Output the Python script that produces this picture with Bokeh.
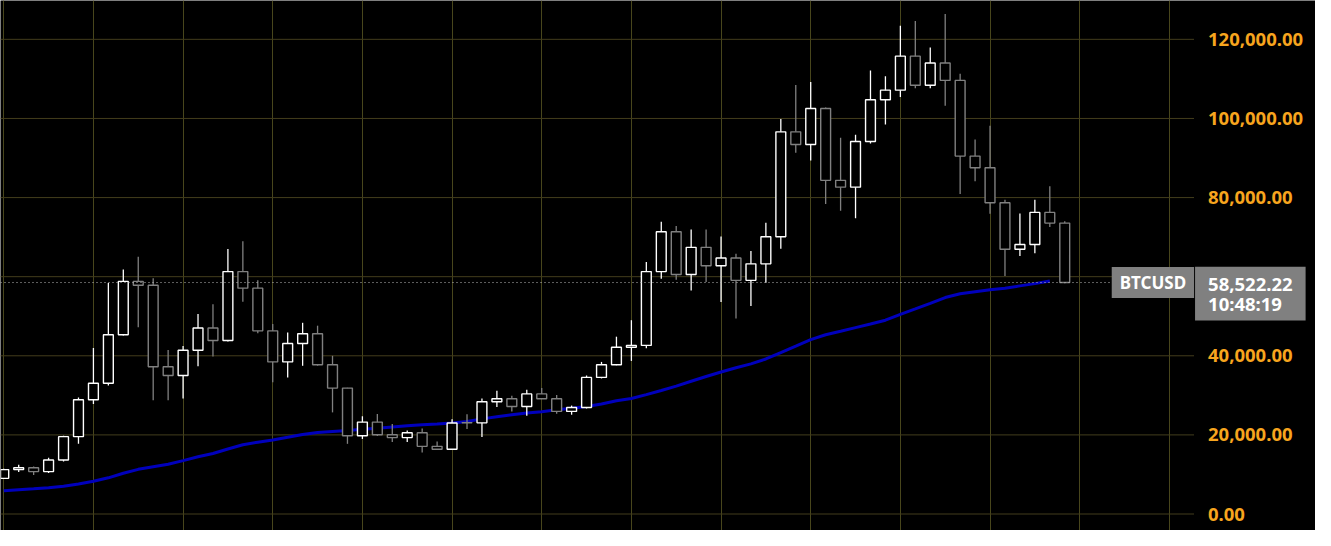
from bokeh.plotting import figure
from bokeh.models import (Range1d, FixedTicker, NumeralTickFormatter, Label, ColumnDataSource,
                          LinearAxis)
from bokeh.embed import file_html
from bokeh.resources import INLINE

# ---- data (monthly BTCUSD candles) ----
months = [f"{2020 + (6 + k) // 12}-{(6 + k) % 12 + 1:02d}" for k in range(72)]

opens = [9010, 11220, 11700, 10720, 13670, 19560, 28880, 33060, 45330, 58820,
         57840, 37230, 35020, 41400, 47040, 43850, 61280, 57100, 46310, 38460,
         43120, 45570, 37720, 31830, 19800, 23240, 20050, 19310, 20540, 17100,
         16370, 23100, 23050, 28390, 29130, 27170, 30360, 29130, 25940, 26920,
         34530, 37720, 42140, 42630, 61280, 71340, 60540, 67410, 62750, 64710,
         59070, 63240, 70110, 96610, 93420, 102500, 84350, 82630, 94160, 104710,
         107160, 115750, 108390, 114030, 109620, 90480, 87530, 78700, 66920, 68150,
         76250, 73550]
highs = [11450, 12440, 12030, 14230, 19800, 29450, 41960, 58400, 61840, 65030,
         59630, 41470, 42450, 50550, 53000, 66990, 68960, 59070, 48020, 45890,
         48340, 47610, 40000, 31900, 24710, 25280, 22750, 21100, 21600, 18330,
         23970, 25200, 29200, 31170, 29870, 31410, 31830, 30110, 27410, 35020,
         38450, 44830, 49000, 63730, 73870, 72810, 71900, 71900, 70180, 65770,
         66500, 73620, 99880, 108470, 109210, 102750, 95140, 95880, 112150, 110670,
         123440, 124660, 117960, 126380, 111330, 94650, 98160, 79440, 76000, 79440,
         82870, 74040]
lows = [8980, 10630, 9890, 10380, 13250, 17740, 27800, 32470, 45150, 47190,
        28790, 28790, 29200, 37370, 39830, 43600, 53670, 45720, 33300, 34530,
        37470, 37500, 25690, 17740, 18970, 19710, 18230, 18230, 15530, 16300,
        16300, 21520, 19460, 27070, 25940, 24860, 29050, 25350, 25100, 26680,
        34280, 37600, 38700, 41900, 59460, 59210, 56520, 58650, 53570, 49400,
        52590, 58480, 67070, 91360, 89400, 78360, 76640, 74770, 93660, 98480,
        105450, 107660, 107660, 103240, 80910, 84100, 75900, 60200, 65200, 65940,
        72570, 58330]
closes = [11220, 11700, 10720, 13670, 19560, 28880, 33060, 45330, 58820, 57840,
          37230, 35020, 41400, 47040, 43850, 61280, 57100, 46310, 38460, 43120,
          45570, 37720, 31830, 19800, 23240, 20050, 19310, 20540, 17100, 16370,
          23000, 23050, 28390, 29130, 27170, 30360, 29130, 25940, 26920, 34530,
          37720, 42140, 42630, 61280, 71340, 60540, 67410, 62750, 64710, 59070,
          63240, 70110, 96610, 93420, 102500, 84350, 82630, 94160, 104710, 107160,
          115750, 108390, 114030, 109620, 90480, 87530, 78700, 66920, 68150, 76250,
          73550, 58522.22]
moving_avg = [5890, 6135, 6380, 6630, 7040, 7610, 8270, 9150, 10310, 11290,
              11950, 12590, 13500, 14480, 15290, 16440, 17500, 18160, 18720, 19390,
              20120, 20610, 20860, 21100, 21420, 21670, 22010, 22330, 22580, 22750,
              23000, 23390, 24050, 24610, 25100, 25520, 25840, 26330, 26750, 27170,
              27800, 28640, 29200, 30180, 31240, 32320, 33550, 34770, 35900, 36980,
              37960, 39190, 40810, 42450, 44100, 45330, 46210, 47120, 48020, 49000,
              50470, 51850, 53250, 54720, 55700, 56200, 56690, 57100, 57670, 58240,
              58900]
y_ticks = [0, 20000, 40000, 60000, 80000, 100000, 120000]
x_grid_months = list(range(0, 80, 6))
symbol = "BTCUSD"
last_price = 58522.22
clock = "10:48:19"

# ---- layout constants (data-space extents) ----
X_START, X_END = -0.218, 87.78      # full width of the frame
AXIS_X = 79.65                      # where the price scale begins
Y_START, Y_END = -4170, 129820

# ---- build sources ----
idx = list(range(len(months)))
up_color, down_color = "#ffffff", "#808080"
colors = [up_color if c >= o else down_color for o, c in zip(opens, closes)]
src = ColumnDataSource(dict(
    x=idx, month=months, open=opens, high=highs, low=lows, close=closes,
    top=[max(o, c) for o, c in zip(opens, closes)],
    bottom=[min(o, c) for o, c in zip(opens, closes)],
    color=colors,
))
ma_src = ColumnDataSource(dict(x=idx[:len(moving_avg)], y=moving_avg))
hgrid_src = ColumnDataSource(dict(y=y_ticks, x0=[X_START] * len(y_ticks), x1=[AXIS_X] * len(y_ticks)))

p = figure(width=1315, height=530, output_backend="svg", toolbar_location=None,
           x_range=Range1d(X_START, X_END), y_range=Range1d(Y_START, Y_END),
           x_axis_location=None, y_axis_location=None,
           min_border_left=0, min_border_top=0, min_border_bottom=0, min_border_right=0)
p.background_fill_color = "#000000"
p.border_fill_color = "#000000"
p.outline_line_color = None

# vertical grid (every 6 months)
p.xgrid.ticker = FixedTicker(ticks=x_grid_months)
p.xgrid.grid_line_color = "#48461c"
p.xgrid.grid_line_width = 1
p.ygrid.grid_line_color = None

# horizontal grid lines stop where the price scale begins
p.segment(x0="x0", y0="y", x1="x1", y1="y", source=hgrid_src, line_color="#433d1c", line_width=1)

# price scale on the right
yax = LinearAxis(fixed_location=AXIS_X, ticker=FixedTicker(ticks=y_ticks),
                 formatter=NumeralTickFormatter(format="0,0.00"))
yax.major_label_overrides = {60000: ""}
yax.axis_line_color = None
yax.major_tick_line_color = None
yax.minor_tick_line_color = None
yax.major_label_standoff = 8
yax.major_label_text_color = "#f7a51e"
yax.major_label_text_font = "Noto Sans"
yax.major_label_text_font_style = "bold"
yax.major_label_text_font_size = "18.5px"
p.add_layout(yax, "right")

# moving average
p.line("x", "y", source=ma_src, line_color="#0000bc", line_width=3)

# candles
p.segment(x0="x", y0="high", x1="x", y1="low", source=src, line_color="color", line_width=1.3)
p.vbar(x="x", top="top", bottom="bottom", width=0.66, source=src,
       fill_color="#000000", line_color="color", line_width=1.4)

# last price dotted line
p.segment(x0=[X_START], y0=[last_price], x1=[AXIS_X], y1=[last_price],
          line_color="#bdbdbd", line_width=1, line_dash="1 3")

# symbol tag and price tag
p.add_layout(Label(x=76.9, y=last_price, text=symbol, text_align="center", text_baseline="middle",
                   text_color="#ffffff", text_font="Noto Sans", text_font_style="bold",
                   text_font_size="17px", background_fill_color="#808080", padding=(8, 4)))
p.add_layout(Label(x=79.72, y=55730, text=f"{last_price:,.2f}\n{clock}", text_align="left",
                   text_baseline="middle", text_color="#ffffff", text_font="Noto Sans",
                   text_font_style="bold", text_font_size="18.5px", text_line_height=0.83,
                   background_fill_color="#808080", padding=(13, 4)))

open("out.html", "w").write(file_html(p, INLINE))
